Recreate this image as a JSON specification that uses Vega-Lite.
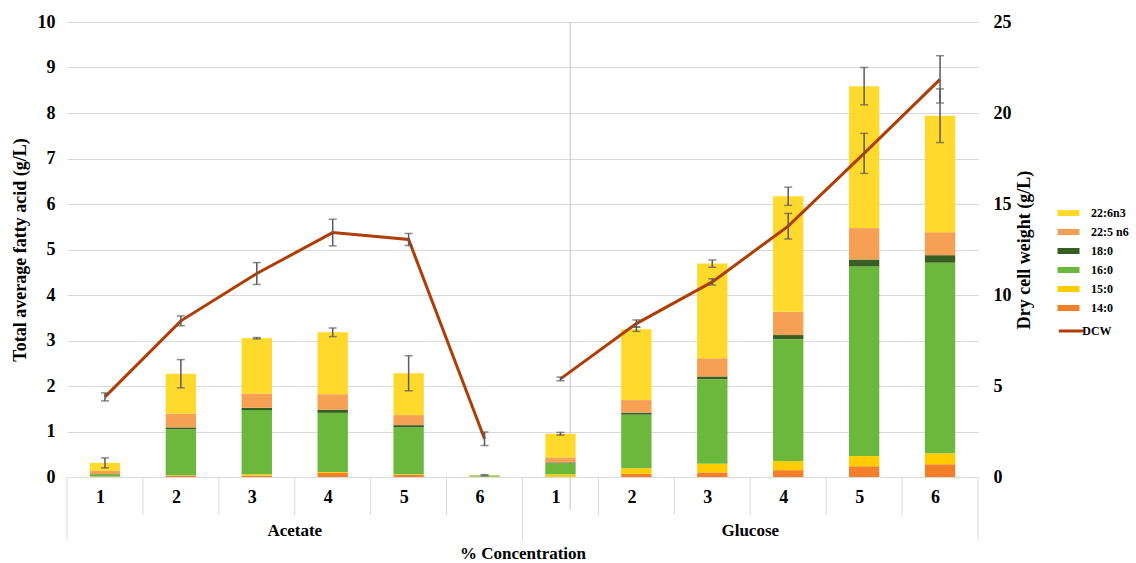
{
  "$schema": "https://vega.github.io/schema/vega-lite/v6.json",
  "width": 911,
  "height": 455,
  "autosize": {"type": "none"},
  "padding": {"left": 67, "top": 22, "right": 158, "bottom": 86},
  "background": "white",
  "config": {
    "font": "Liberation Serif",
    "view": {"stroke": null},
    "axis": {"labelColor": "#000000", "titleColor": "#000000", "labelFont": "Liberation Serif", "titleFont": "Liberation Serif"},
    "legend": {"labelFont": "Liberation Serif", "labelColor": "#000000"}
  },
  "datasets": {
    "fa": [
      {"cat": "A1", "fa": "14:0", "v": 0.005}, {"cat": "A1", "fa": "15:0", "v": 0.005}, {"cat": "A1", "fa": "16:0", "v": 0.05}, {"cat": "A1", "fa": "18:0", "v": 0.005}, {"cat": "A1", "fa": "22:5 n6", "v": 0.07}, {"cat": "A1", "fa": "22:6n3", "v": 0.175},
      {"cat": "A2", "fa": "14:0", "v": 0.03}, {"cat": "A2", "fa": "15:0", "v": 0.01}, {"cat": "A2", "fa": "16:0", "v": 1.01}, {"cat": "A2", "fa": "18:0", "v": 0.04}, {"cat": "A2", "fa": "22:5 n6", "v": 0.30}, {"cat": "A2", "fa": "22:6n3", "v": 0.88},
      {"cat": "A3", "fa": "14:0", "v": 0.03}, {"cat": "A3", "fa": "15:0", "v": 0.03}, {"cat": "A3", "fa": "16:0", "v": 1.41}, {"cat": "A3", "fa": "18:0", "v": 0.05}, {"cat": "A3", "fa": "22:5 n6", "v": 0.31}, {"cat": "A3", "fa": "22:6n3", "v": 1.22},
      {"cat": "A4", "fa": "14:0", "v": 0.09}, {"cat": "A4", "fa": "15:0", "v": 0.02}, {"cat": "A4", "fa": "16:0", "v": 1.30}, {"cat": "A4", "fa": "18:0", "v": 0.07}, {"cat": "A4", "fa": "22:5 n6", "v": 0.34}, {"cat": "A4", "fa": "22:6n3", "v": 1.36},
      {"cat": "A5", "fa": "14:0", "v": 0.05}, {"cat": "A5", "fa": "15:0", "v": 0.01}, {"cat": "A5", "fa": "16:0", "v": 1.03}, {"cat": "A5", "fa": "18:0", "v": 0.05}, {"cat": "A5", "fa": "22:5 n6", "v": 0.22}, {"cat": "A5", "fa": "22:6n3", "v": 0.92},
      {"cat": "A6", "fa": "14:0", "v": 0.0}, {"cat": "A6", "fa": "15:0", "v": 0.01}, {"cat": "A6", "fa": "16:0", "v": 0.025}, {"cat": "A6", "fa": "18:0", "v": 0.0}, {"cat": "A6", "fa": "22:5 n6", "v": 0.0}, {"cat": "A6", "fa": "22:6n3", "v": 0.005},
      {"cat": "G1", "fa": "14:0", "v": 0.005}, {"cat": "G1", "fa": "15:0", "v": 0.055}, {"cat": "G1", "fa": "16:0", "v": 0.24}, {"cat": "G1", "fa": "18:0", "v": 0.02}, {"cat": "G1", "fa": "22:5 n6", "v": 0.11}, {"cat": "G1", "fa": "22:6n3", "v": 0.52},
      {"cat": "G2", "fa": "14:0", "v": 0.07}, {"cat": "G2", "fa": "15:0", "v": 0.12}, {"cat": "G2", "fa": "16:0", "v": 1.18}, {"cat": "G2", "fa": "18:0", "v": 0.045}, {"cat": "G2", "fa": "22:5 n6", "v": 0.275}, {"cat": "G2", "fa": "22:6n3", "v": 1.56},
      {"cat": "G3", "fa": "14:0", "v": 0.10}, {"cat": "G3", "fa": "15:0", "v": 0.19}, {"cat": "G3", "fa": "16:0", "v": 1.86}, {"cat": "G3", "fa": "18:0", "v": 0.06}, {"cat": "G3", "fa": "22:5 n6", "v": 0.40}, {"cat": "G3", "fa": "22:6n3", "v": 2.08},
      {"cat": "G4", "fa": "14:0", "v": 0.15}, {"cat": "G4", "fa": "15:0", "v": 0.20}, {"cat": "G4", "fa": "16:0", "v": 2.68}, {"cat": "G4", "fa": "18:0", "v": 0.09}, {"cat": "G4", "fa": "22:5 n6", "v": 0.51}, {"cat": "G4", "fa": "22:6n3", "v": 2.54},
      {"cat": "G5", "fa": "14:0", "v": 0.235}, {"cat": "G5", "fa": "15:0", "v": 0.225}, {"cat": "G5", "fa": "16:0", "v": 4.17}, {"cat": "G5", "fa": "18:0", "v": 0.15}, {"cat": "G5", "fa": "22:5 n6", "v": 0.69}, {"cat": "G5", "fa": "22:6n3", "v": 3.12},
      {"cat": "G6", "fa": "14:0", "v": 0.28}, {"cat": "G6", "fa": "15:0", "v": 0.24}, {"cat": "G6", "fa": "16:0", "v": 4.19}, {"cat": "G6", "fa": "18:0", "v": 0.165}, {"cat": "G6", "fa": "22:5 n6", "v": 0.505}, {"cat": "G6", "fa": "22:6n3", "v": 2.56}
    ],
    "stats": [
      {"cat": "A1", "grp": "Acetate", "total": 0.31, "err": 0.11, "dcw": 4.4, "dcwErr": 0.22},
      {"cat": "A2", "grp": "Acetate", "total": 2.27, "err": 0.31, "dcw": 8.58, "dcwErr": 0.27},
      {"cat": "A3", "grp": "Acetate", "total": 3.05, "err": 0.015, "dcw": 11.18, "dcwErr": 0.6},
      {"cat": "A4", "grp": "Acetate", "total": 3.18, "err": 0.095, "dcw": 13.43, "dcwErr": 0.73},
      {"cat": "A5", "grp": "Acetate", "total": 2.28, "err": 0.385, "dcw": 13.05, "dcwErr": 0.33},
      {"cat": "A6", "grp": "Acetate", "total": 0.04, "err": 0.012, "dcw": 2.1, "dcwErr": 0.37},
      {"cat": "G1", "grp": "Glucose", "total": 0.95, "err": 0.03, "dcw": 5.39, "dcwErr": 0.1},
      {"cat": "G2", "grp": "Glucose", "total": 3.25, "err": 0.05, "dcw": 8.43, "dcwErr": 0.2},
      {"cat": "G3", "grp": "Glucose", "total": 4.69, "err": 0.08, "dcw": 10.72, "dcwErr": 0.17},
      {"cat": "G4", "grp": "Glucose", "total": 6.17, "err": 0.2, "dcw": 13.78, "dcwErr": 0.7},
      {"cat": "G5", "grp": "Glucose", "total": 8.59, "err": 0.41, "dcw": 17.78, "dcwErr": 1.1},
      {"cat": "G6", "grp": "Glucose", "total": 7.94, "err": 0.59, "dcw": 21.85, "dcwErr": 1.3}
    ],
    "groups": [
      {"cat": "A4", "label": "Acetate"},
      {"cat": "G4", "label": "Glucose"}
    ],
    "seps": [
      {"cat": "A1"},
      {"cat": "G1"}
    ],
    "catSeps": [
      {"cat": "A2"}, {"cat": "A3"}, {"cat": "A4"}, {"cat": "A5"}, {"cat": "A6"},
      {"cat": "G2"}, {"cat": "G3"}, {"cat": "G4"}, {"cat": "G5"}, {"cat": "G6"}
    ],
    "sepEnd": [
      {"cat": "G6"}
    ],
    "artifact": [
      {"cat": "G1"}
    ]
  },
  "layer": [
    {
      "layer": [
        {
          "data": {"name": "seps"},
          "mark": {"type": "rule", "color": "#d9d9d9", "strokeWidth": 1},
          "encoding": {
            "x": {"field": "cat", "type": "nominal", "bandPosition": -0.75, "title": "% Concentration"},
            "y": {"datum": 0, "type": "quantitative", "title": "Total average fatty acid (g/L)"},
            "y2": {"datum": -1.4}
          }
        },
        {
          "data": {"name": "catSeps"},
          "mark": {"type": "rule", "color": "#d9d9d9", "strokeWidth": 1},
          "encoding": {
            "x": {"field": "cat", "type": "nominal", "bandPosition": -0.75, "title": "% Concentration"},
            "y": {"datum": 0, "type": "quantitative", "title": "Total average fatty acid (g/L)"},
            "y2": {"datum": -0.836}
          }
        },
        {
          "data": {"name": "sepEnd"},
          "mark": {"type": "rule", "color": "#d9d9d9", "strokeWidth": 1},
          "encoding": {
            "x": {"field": "cat", "type": "nominal", "bandPosition": 1.75, "title": "% Concentration"},
            "y": {"datum": 0, "type": "quantitative", "title": "Total average fatty acid (g/L)"},
            "y2": {"datum": -1.4}
          }
        },
        {
          "data": {"name": "artifact"},
          "mark": {"type": "rule", "color": "#c6c6c6", "strokeWidth": 1},
          "encoding": {
            "x": {"field": "cat", "type": "nominal", "bandPosition": 0.82, "title": "% Concentration"},
            "y": {"datum": 10, "type": "quantitative", "title": "Total average fatty acid (g/L)"},
            "y2": {"datum": -0.72}
          }
        },
        {
          "data": {"name": "fa"},
          "mark": {"type": "bar"},
          "encoding": {
            "x": {
              "field": "cat", "type": "nominal", "title": "% Concentration",
              "scale": {"domain": ["A1", "A2", "A3", "A4", "A5", "A6", "G1", "G2", "G3", "G4", "G5", "G6"], "paddingInner": 0.6, "paddingOuter": 0.3},
              "axis": {
                "labelExpr": "substring(datum.label, 1)", "labelAngle": 0,
                "tickSize": 38, "tickOpacity": 0, "domainColor": "#d9d9d9",
                "labelPadding": -27, "titlePadding": 30, "labelFontSize": 18, "labelFontWeight": "bold",
                "titleFontSize": 17, "titleFontWeight": "bold", "grid": false, "labelBaseline": "top"
              }
            },
            "y": {
              "field": "v", "type": "quantitative", "stack": "zero", "title": "Total average fatty acid (g/L)",
              "scale": {"domain": [0, 10], "nice": false},
              "axis": {
                "values": [0, 1, 2, 3, 4, 5, 6, 7, 8, 9, 10],
                "grid": true, "gridColor": "#d9d9d9", "domain": false, "ticks": false, "labelPadding": 12,
                "labelFontSize": 18, "labelFontWeight": "bold", "titleFontSize": 18, "titleFontWeight": "bold", "titlePadding": 8
              }
            },
            "order": {"field": "fa", "sort": "ascending"},
            "color": {
              "field": "fa", "type": "nominal",
              "scale": {
                "domain": ["22:6n3", "22:5 n6", "18:0", "16:0", "15:0", "14:0"],
                "range": ["#FFD92B", "#F5A052", "#375F23", "#6BB83D", "#FFCC00", "#F47F29"]
              },
              "legend": {
                "title": null, "orient": "none", "legendX": 995.5, "legendY": 185,
                "symbolType": "M-2,-0.55H2V0.55H-2Z", "symbolSize": 121, "symbolStrokeWidth": 0,
                "labelFontSize": 12, "labelFontWeight": "bold", "labelOffset": 16.5, "rowPadding": 7
              }
            }
          }
        },
        {
          "data": {"name": "stats"},
          "mark": {"type": "errorbar", "ticks": {"size": 8}, "thickness": 1.5, "color": "#5a5a5a"},
          "encoding": {
            "x": {"field": "cat", "type": "nominal", "title": "% Concentration"},
            "y": {"field": "total", "type": "quantitative", "title": "Total average fatty acid (g/L)"},
            "yError": {"field": "err"}
          }
        },
        {
          "data": {"name": "groups"},
          "mark": {"type": "text", "fontSize": 17, "fontWeight": "bold", "baseline": "middle", "align": "center", "color": "#000000"},
          "encoding": {
            "x": {"field": "cat", "type": "nominal", "bandPosition": -0.75, "title": "% Concentration"},
            "y": {"datum": -1.19, "type": "quantitative", "title": "Total average fatty acid (g/L)"},
            "text": {"field": "label"}
          }
        }
      ]
    },
    {
      "data": {"name": "stats"},
      "layer": [
        {
          "mark": {"type": "line", "strokeWidth": 3},
          "encoding": {
            "x": {"field": "cat", "type": "nominal", "title": "% Concentration"},
            "y": {
              "field": "dcw", "type": "quantitative", "title": "Dry cell weight (g/L)",
              "scale": {"domain": [0, 25], "nice": false},
              "axis": {
                "orient": "right", "values": [0, 5, 10, 15, 20, 25],
                "grid": false, "domain": false, "ticks": false, "labelPadding": 15,
                "labelFontSize": 18, "labelFontWeight": "bold", "titleFontSize": 18, "titleFontWeight": "bold",
                "titleAngle": 270, "titlePadding": 22
              }
            },
            "detail": {"field": "grp"},
            "stroke": {
              "datum": "DCW", "type": "nominal",
              "scale": {"range": ["#AE3E06"]},
              "legend": {
                "title": null, "orient": "none", "legendX": 996.25, "legendY": 301,
                "symbolType": "M-2,0H2", "symbolSize": 156, "symbolStrokeWidth": 3,
                "labelFontSize": 12, "labelFontWeight": "bold", "labelOffset": 3
              }
            }
          }
        },
        {
          "mark": {"type": "errorbar", "ticks": {"size": 8}, "thickness": 1.5, "color": "#5a5a5a"},
          "encoding": {
            "x": {"field": "cat", "type": "nominal", "title": "% Concentration"},
            "y": {"field": "dcw", "type": "quantitative", "title": "Dry cell weight (g/L)"},
            "yError": {"field": "dcwErr"}
          }
        }
      ]
    }
  ],
  "resolve": {"scale": {"y": "independent", "color": "independent", "stroke": "independent"}}
}
